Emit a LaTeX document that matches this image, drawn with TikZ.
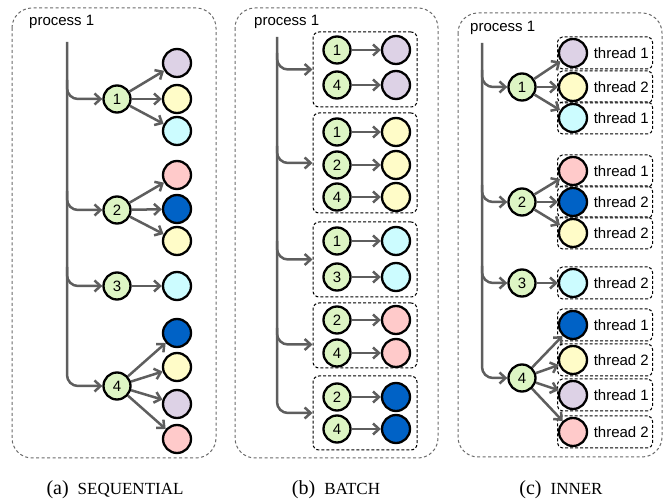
\documentclass[tikz,border=0pt]{standalone}
\usepackage{fontspec}
\newfontfamily\helv{Liberation Sans}
\newfontfamily\capfont{Liberation Serif}
\usetikzlibrary{arrows.meta,calc}
\definecolor{boxgray}{HTML}{6A6A6A}
\definecolor{flowgray}{HTML}{5E5E5E}
\definecolor{taskgreen}{HTML}{DDF5C4}
\definecolor{lav}{HTML}{DDD2E6}
\definecolor{yel}{HTML}{FFFCC8}
\definecolor{cya}{HTML}{CCFCFF}
\definecolor{pnk}{HTML}{FFCACA}
\definecolor{blu}{HTML}{0062C6}
% caption: tag in roman, name in small capitals
\newcommand{\subcap}[2]{{\fontsize{20}{20}\selectfont(#1)}\hspace{9pt}{\fontsize{17}{17}\selectfont #2}}
\begin{document}
\begin{tikzpicture}[x=1pt,y=-1pt,
  outer/.style={draw=boxgray, line width=1pt, dash pattern=on 3pt off 2.5pt, rounded corners=20pt},
  grp/.style={rectangle, draw=black, line width=1pt, dash pattern=on 3pt off 2pt, rounded corners=6pt, inner sep=0pt},
  thr/.style={grp, minimum width=95pt, minimum height=32pt, rounded corners=5pt},
  flow/.style={draw=flowgray, line width=2.5pt, -{Straight Barb[length=6pt,width=11pt]}},
  trunk/.style={flow, rounded corners=11pt},
  task/.style={circle, draw=black, line width=2.3pt, fill=taskgreen, minimum size=27pt, inner sep=0pt, font=\helv\fontsize{15}{15}\selectfont},
  res/.style={circle, draw=black, line width=2.3pt, minimum size=28pt, inner sep=0pt},
  title/.style={font=\helv\fontsize{15}{15}\selectfont, anchor=west, inner sep=0pt},
  tlabel/.style={font=\helv\fontsize{15}{15}\selectfont, anchor=east, inner sep=0pt},
  caption/.style={font=\capfont}]
\useasboundingbox (0,0) rectangle (665,502);

% ---------------- (a) sequential ----------------
\draw[outer] (12,8) rectangle (216,458);
\node[title] (ta) at (29,22) {process 1};
\node[task] (a1) at (117,99) {1};
\node[task] (a2) at (117,210) {2};
\node[task] (a3) at (117,286) {3};
\node[task] (a4) at (117,386) {4};
\node[res,fill=lav] (a1a) at (177,63) {};
\node[res,fill=yel] (a1b) at (177,99) {};
\node[res,fill=cya] (a1c) at (177,131) {};
\node[res,fill=pnk] (a2a) at (177,175) {};
\node[res,fill=blu] (a2b) at (177,209) {};
\node[res,fill=yel] (a2c) at (177,241) {};
\node[res,fill=cya] (a3a) at (177,286) {};
\node[res,fill=blu] (a4a) at (177,333) {};
\node[res,fill=yel] (a4b) at (177,367) {};
\node[res,fill=lav] (a4c) at (177,404) {};
\node[res,fill=pnk] (a4d) at (177,439) {};
\coordinate (a0) at (67,42);
\coordinate (a1s) at (67,80);
\coordinate (a2s) at (67,191);
\coordinate (a3s) at (67,267);
\draw[trunk] (a0) |- (a4);
\draw[trunk] (a1s) |- (a1);
\draw[trunk] (a2s) |- (a2);
\draw[trunk] (a3s) |- (a3);
\foreach \s/\t in {a1/a1a,a1/a1b,a1/a1c,a2/a2a,a2/a2b,a2/a2c,a3/a3a,a4/a4a,a4/a4b,a4/a4c,a4/a4d}
  \draw[flow] (\s) -- (\t);
\node[caption] (capa) at (115,490) {\subcap{a}{SEQUENTIAL}};

% ---------------- (b) batch ----------------
\draw[outer] (235,8) rectangle (438,458);
\node[title] (tb) at (254,22) {process 1};
\node[grp, minimum width=104pt, minimum height=75pt] (g1) at (365,69.5) {};
\node[grp, minimum width=104pt, minimum height=100pt] (g2) at (365,163) {};
\node[grp, minimum width=104pt, minimum height=75pt] (g3) at (365,259.5) {};
\node[grp, minimum width=104pt, minimum height=65pt] (g4) at (365,335.5) {};
\node[grp, minimum width=104pt, minimum height=74pt] (g5) at (365,413) {};
\foreach \n/\lab/\y/\c in {b11/1/50/lav, b14/4/85/lav,
    b21/1/132/yel, b22/2/165/yel, b24/4/197/yel,
    b31/1/241/cya, b33/3/277/cya,
    b42/2/320/pnk, b44/4/353/pnk,
    b52/2/397/blu, b54/4/429/blu} {
  \node[task] (\n) at (337,\y) {\lab};
  \node[res,fill=\c] (\n x) at (396,\y) {};
  \draw[flow] (\n) -- (\n x);
}
\coordinate (b0) at (277,37);
\coordinate (b1s) at (277,53);
\coordinate (b2s) at (277,146);
\coordinate (b3s) at (277,241);
\coordinate (b4s) at (277,328);
\draw[trunk] (b0) |- (g5.west);
\draw[trunk] (b1s) |- (g1.west);
\draw[trunk] (b2s) |- (g2.west);
\draw[trunk] (b3s) |- (g3.west);
\draw[trunk] (b4s) |- ($(g4.west)+(0,9)$);
\node[caption] (capb) at (336,490) {\subcap{b}{BATCH}};

% ---------------- (c) inner ----------------
\draw[outer] (458,13) rectangle (662,457);
\node[title] (tc) at (470,28) {process 1};
\node[task] (c1) at (522,87) {1};
\node[task] (c2) at (522,202) {2};
\node[task] (c3) at (522,283) {3};
\node[task] (c4) at (522,378) {4};
\foreach \n/\p/\y/\c/\k in {c1a/c1/53/lav/1, c1b/c1/87/yel/2, c1c/c1/118/cya/1,
    c2a/c2/171/pnk/1, c2b/c2/202/blu/2, c2c/c2/233/yel/2,
    c3a/c3/283/cya/2,
    c4a/c4/325/blu/1, c4b/c4/360/yel/2, c4c/c4/395/lav/1, c4d/c4/432/pnk/2} {
  \node[thr] (\n box) at (605,\y) {};
  \node[res,fill=\c] (\n) at (573,\y) {};
  \node[tlabel] (\n lab) at (649,\y) {thread \k};
  \draw[flow] (\p) -- (\n);
}
\coordinate (c0) at (482,43);
\coordinate (c1s) at (482,70);
\coordinate (c2s) at (482,185);
\coordinate (c3s) at (482,266);
\draw[trunk] (c0) |- (c4);
\draw[trunk] (c1s) |- (c1);
\draw[trunk] (c2s) |- (c2);
\draw[trunk] (c3s) |- (c3);
\node[caption] (capc) at (561,490) {\subcap{c}{INNER}};
\end{tikzpicture}
\end{document}
